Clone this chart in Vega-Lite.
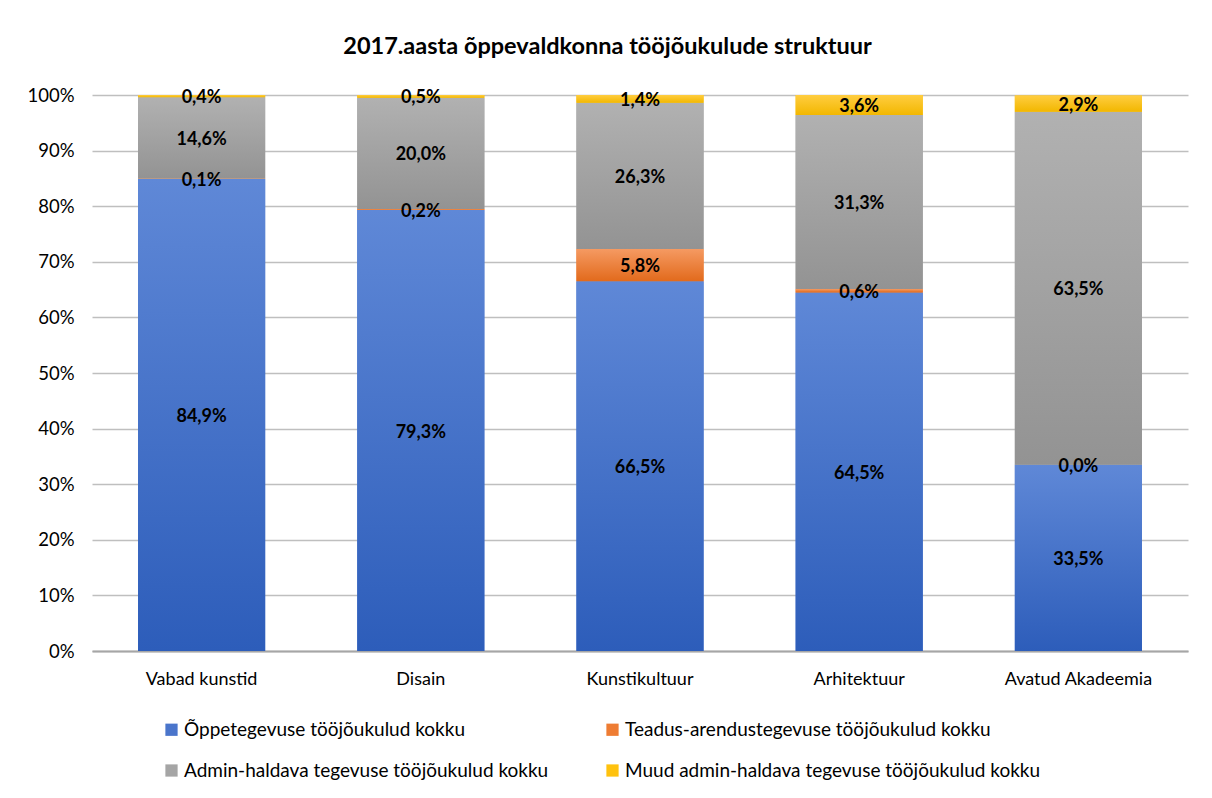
{
  "$schema": "https://vega.github.io/schema/vega-lite/v6.json",
  "width": 1096,
  "height": 556,
  "autosize": {"type": "none"},
  "padding": {"left": 92, "top": 95, "right": 24, "bottom": 147},
  "background": "white",
  "config": {
    "font": "Lato",
    "view": {"stroke": null},
    "locale": {"number": {"decimal": ",", "thousands": " ", "grouping": [3], "currency": ["", " €"]}}
  },
  "title": {
    "text": "2017.aasta õppevaldkonna tööjõukulude struktuur",
    "fontSize": 23.5,
    "fontWeight": "bold",
    "color": "#000000",
    "anchor": "middle",
    "frame": "bounds",
    "offset": 28
  },
  "data": {
    "values": [
      {"eriala": "Vabad kunstid", "liik": "Õppetegevuse tööjõukulud kokku", "j": 1, "v": 84.9},
      {"eriala": "Vabad kunstid", "liik": "Teadus-arendustegevuse tööjõukulud kokku", "j": 2, "v": 0.1},
      {"eriala": "Vabad kunstid", "liik": "Admin-haldava tegevuse tööjõukulud kokku", "j": 3, "v": 14.6},
      {"eriala": "Vabad kunstid", "liik": "Muud admin-haldava tegevuse tööjõukulud kokku", "j": 4, "v": 0.4},
      {"eriala": "Disain", "liik": "Õppetegevuse tööjõukulud kokku", "j": 1, "v": 79.3},
      {"eriala": "Disain", "liik": "Teadus-arendustegevuse tööjõukulud kokku", "j": 2, "v": 0.2},
      {"eriala": "Disain", "liik": "Admin-haldava tegevuse tööjõukulud kokku", "j": 3, "v": 20.0},
      {"eriala": "Disain", "liik": "Muud admin-haldava tegevuse tööjõukulud kokku", "j": 4, "v": 0.5},
      {"eriala": "Kunstikultuur", "liik": "Õppetegevuse tööjõukulud kokku", "j": 1, "v": 66.5},
      {"eriala": "Kunstikultuur", "liik": "Teadus-arendustegevuse tööjõukulud kokku", "j": 2, "v": 5.8},
      {"eriala": "Kunstikultuur", "liik": "Admin-haldava tegevuse tööjõukulud kokku", "j": 3, "v": 26.3},
      {"eriala": "Kunstikultuur", "liik": "Muud admin-haldava tegevuse tööjõukulud kokku", "j": 4, "v": 1.4},
      {"eriala": "Arhitektuur", "liik": "Õppetegevuse tööjõukulud kokku", "j": 1, "v": 64.5},
      {"eriala": "Arhitektuur", "liik": "Teadus-arendustegevuse tööjõukulud kokku", "j": 2, "v": 0.6},
      {"eriala": "Arhitektuur", "liik": "Admin-haldava tegevuse tööjõukulud kokku", "j": 3, "v": 31.3},
      {"eriala": "Arhitektuur", "liik": "Muud admin-haldava tegevuse tööjõukulud kokku", "j": 4, "v": 3.6},
      {"eriala": "Avatud Akadeemia", "liik": "Õppetegevuse tööjõukulud kokku", "j": 1, "v": 33.5},
      {"eriala": "Avatud Akadeemia", "liik": "Teadus-arendustegevuse tööjõukulud kokku", "j": 2, "v": 0.0},
      {"eriala": "Avatud Akadeemia", "liik": "Admin-haldava tegevuse tööjõukulud kokku", "j": 3, "v": 63.5},
      {"eriala": "Avatud Akadeemia", "liik": "Muud admin-haldava tegevuse tööjõukulud kokku", "j": 4, "v": 2.9}
    ]
  },
  "transform": [
    {"calculate": "datum.v / 100", "as": "p"},
    {"stack": "p", "groupby": ["eriala"], "sort": [{"field": "j", "order": "ascending"}], "as": ["p0", "p1"]},
    {"calculate": "(datum.p0 + datum.p1) / 2", "as": "pm"}
  ],
  "encoding": {
    "x": {
      "field": "eriala",
      "type": "nominal",
      "sort": ["Vabad kunstid", "Disain", "Kunstikultuur", "Arhitektuur", "Avatud Akadeemia"],
      "scale": {"paddingInner": 0.42, "paddingOuter": 0.21},
      "axis": {
        "title": null,
        "labelAngle": 0,
        "labelFontSize": 18,
        "labelColor": "#000000",
        "labelPadding": 19,
        "ticks": false,
        "domainColor": "#A6A6A6",
        "domainWidth": 2
      }
    },
    "y": {
      "field": "p0",
      "type": "quantitative",
      "scale": {"domain": [0, 1]},
      "axis": {
        "title": null,
        "format": ".0%",
        "values": [0, 0.1, 0.2, 0.3, 0.4, 0.5, 0.6, 0.7, 0.8, 0.9, 1],
        "labelOverlap": false,
        "labelFontSize": 18.5,
        "labelColor": "#000000",
        "labelPadding": 18,
        "ticks": false,
        "domain": false,
        "gridColor": "#BFBFBF",
        "gridWidth": 1.3
      }
    }
  },
  "layer": [
    {
      "mark": {"type": "bar"},
      "encoding": {
        "y2": {"field": "p1"},
        "color": {
          "field": "liik",
          "type": "nominal",
          "sort": ["Õppetegevuse tööjõukulud kokku", "Teadus-arendustegevuse tööjõukulud kokku", "Admin-haldava tegevuse tööjõukulud kokku", "Muud admin-haldava tegevuse tööjõukulud kokku"],
          "scale": {
            "domain": ["Õppetegevuse tööjõukulud kokku", "Teadus-arendustegevuse tööjõukulud kokku", "Admin-haldava tegevuse tööjõukulud kokku", "Muud admin-haldava tegevuse tööjõukulud kokku"],
            "range": ["#4A75CB", "#EE7C33", "#A5A5A5", "#FFC20E"]
          },
          "legend": {
            "title": null,
            "orient": "none",
            "legendX": 70,
            "legendY": 625,
            "direction": "horizontal",
            "columns": 2,
            "columnPadding": 54,
            "rowPadding": 21,
            "symbolType": "square",
            "symbolSize": 150,
            "symbolStrokeWidth": 0,
            "labelFontSize": 19,
            "labelColor": "#000000",
            "labelOffset": 3,
            "labelLimit": 500
          }
        },
        "order": {"field": "j", "type": "quantitative"}
      }
    },
    {
      "transform": [{"filter": "datum.j == 1"}],
      "mark": {"type": "bar", "fill": {"gradient": "linear", "x1": 0, "y1": 0, "x2": 0, "y2": 1, "stops": [{"offset": 0, "color": "#5F88D7"}, {"offset": 1, "color": "#2D5DBA"}]}},
      "encoding": {"y2": {"field": "p1"}}
    },
    {
      "transform": [{"filter": "datum.j == 2"}],
      "mark": {"type": "bar", "fill": {"gradient": "linear", "x1": 0, "y1": 0, "x2": 0, "y2": 1, "stops": [{"offset": 0, "color": "#F59A62"}, {"offset": 1, "color": "#E26A1C"}]}},
      "encoding": {"y2": {"field": "p1"}}
    },
    {
      "transform": [{"filter": "datum.j == 3"}],
      "mark": {"type": "bar", "fill": {"gradient": "linear", "x1": 0, "y1": 0, "x2": 0, "y2": 1, "stops": [{"offset": 0, "color": "#B1B1B1"}, {"offset": 1, "color": "#939393"}]}},
      "encoding": {"y2": {"field": "p1"}}
    },
    {
      "transform": [{"filter": "datum.j == 4"}],
      "mark": {"type": "bar", "fill": {"gradient": "linear", "x1": 0, "y1": 0, "x2": 0, "y2": 1, "stops": [{"offset": 0, "color": "#FFCD40"}, {"offset": 1, "color": "#F2B700"}]}},
      "encoding": {"y2": {"field": "p1"}}
    },
    {
      "mark": {"type": "text", "fontSize": 18, "fontWeight": "bold", "color": "#000000", "baseline": "middle", "dy": 2},
      "encoding": {
        "y": {"field": "pm", "type": "quantitative"},
        "text": {"field": "p", "type": "quantitative", "format": ".1%"}
      }
    }
  ]
}
